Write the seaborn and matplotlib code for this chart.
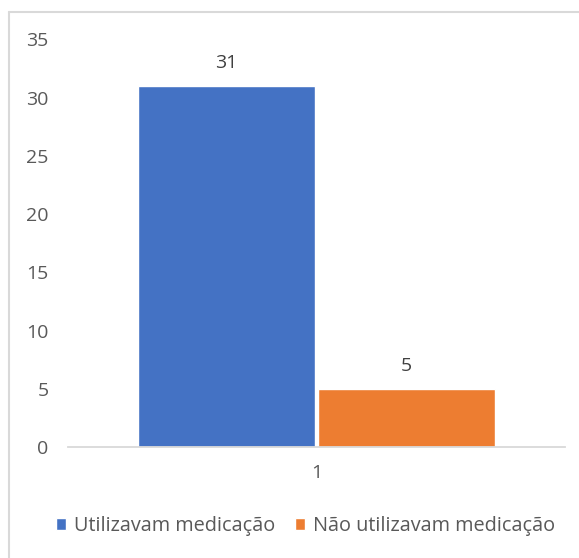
import matplotlib
matplotlib.use("Agg")
import matplotlib.pyplot as plt
import seaborn as sns
import pandas as pd
from matplotlib.lines import Line2D

categories = ["1", "1"]
series = ["Utilizavam medicação", "Não utilizavam medicação"]
values = [31, 5]
colors = ["#4472C4", "#ED7D31"]
yticks = [0, 5, 10, 15, 20, 25, 30, 35]

df = pd.DataFrame({"categoria": categories, "serie": series, "valor": values})

sns.set_theme(style="white")
plt.rcParams["font.family"] = ["Open Sans", "DejaVu Sans"]
text_color = "#595959"

fig = plt.figure(figsize=(5.79, 5.58), dpi=100)
W, H = 579, 558
ax = fig.add_axes([68 / W, (H - 447) / H, (565 - 68) / W, (447 - 39.5) / H])

sns.barplot(data=df, x="categoria", y="valor", hue="serie", hue_order=series,
            palette=colors, width=0.725, gap=0.015, saturation=1,
            ax=ax, legend=True)

ax.set_xlim(-0.5, 0.5)
ax.set_ylim(0, 35)
ax.set_yticks(yticks)
ax.set_yticklabels([str(t) for t in yticks])
ax.set_xlabel("")
ax.set_ylabel("")
for s in ["top", "right", "left"]:
    ax.spines[s].set_visible(False)
ax.spines["bottom"].set_color("#d9d9d9")
ax.spines["bottom"].set_linewidth(1.3)
ax.tick_params(axis="y", length=0, pad=14, labelsize=14, labelcolor=text_color)
ax.tick_params(axis="x", length=0, pad=12, labelsize=14, labelcolor=text_color)
ax.grid(False)

for cont in ax.containers:
    ax.bar_label(cont, labels=[f"{v:g}" for v in cont.datavalues],
                 padding=10, fontsize=14, color="#404040")

handles, labels = ax.get_legend_handles_labels()
ax.get_legend().remove()
fig.legend(handles, labels, loc="center", bbox_to_anchor=(305.5 / W, (H - 526) / H),
           ncol=2, frameon=False, fontsize=14.3, labelcolor=text_color,
           handlelength=0.5, handleheight=0.5, handletextpad=0.4, columnspacing=1.0)

# chart area border (top and left visible)
fig.add_artist(Line2D([9 / W, 9 / W], [0, (H - 12) / H], color="#d9d9d9", lw=1.5,
                      transform=fig.transFigure))
fig.add_artist(Line2D([9 / W, 1], [(H - 12) / H, (H - 12) / H], color="#d9d9d9", lw=1.5,
                      transform=fig.transFigure))

fig.savefig("out.png", dpi=100, facecolor="white")
